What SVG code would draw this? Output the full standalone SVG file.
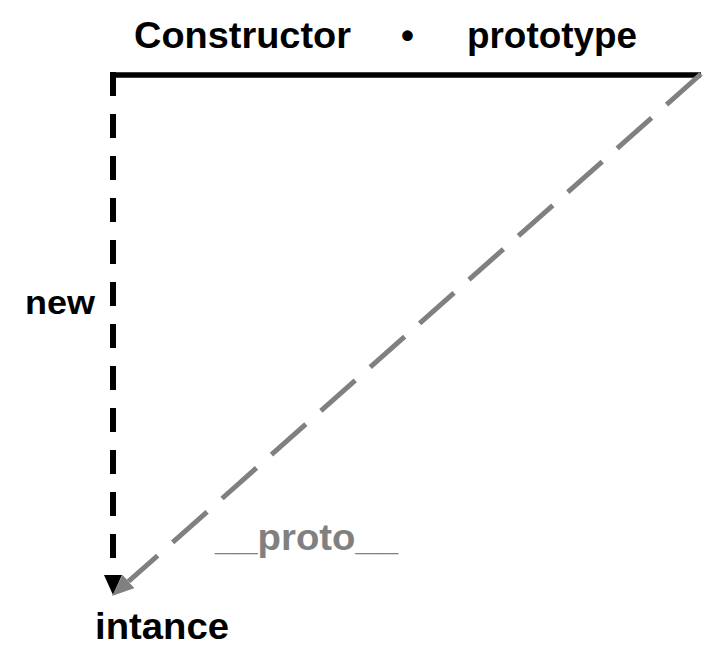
<svg xmlns="http://www.w3.org/2000/svg" width="704" height="672" viewBox="0 0 704 672">
  <style>
    .lbl { font-family: "Liberation Sans", Arial, Helvetica, sans-serif; font-weight: bold; fill: #000; }
    .gray { fill: #808080; }
    .solid { stroke: #000; stroke-width: 5.5; fill: none; }
    .newline { stroke: #000; stroke-width: 6; fill: none; stroke-dasharray: 24 18; }
    .protoline { stroke: #808080; stroke-width: 5; fill: none; stroke-dasharray: 46 20; }
  </style>
  <defs>
    <marker id="arrBlack" markerUnits="userSpaceOnUse" markerWidth="21" markerHeight="18" viewBox="0 0 21 18" refX="0" refY="9" orient="auto">
      <path d="M0,0 L20,9 L0,18 z" fill="#000"/>
    </marker>
    <marker id="arrGray" markerUnits="userSpaceOnUse" markerWidth="23" markerHeight="18" viewBox="0 0 23 18" refX="0" refY="9" orient="auto">
      <path d="M0,0 L22,9 L0,18 z" fill="#808080"/>
    </marker>
  </defs>

  <g id="connectors">
    <line id="ctor-line" class="solid" x1="110" y1="75" x2="701" y2="75"/>
    <line id="new-edge" class="newline" x1="113" y1="72" x2="113" y2="575" marker-end="url(#arrBlack)"/>
    <line id="proto-edge" class="protoline" x1="701" y1="74" x2="128.5" y2="581.4" marker-end="url(#arrGray)"/>
  </g>

  <g id="constructor">
    <text class="lbl" x="134" y="48" font-size="37" textLength="217" lengthAdjust="spacingAndGlyphs">Constructor</text>
  </g>
  <g id="dot">
    <text class="lbl" x="401" y="48" font-size="37">•</text>
  </g>
  <g id="prototype">
    <text class="lbl" x="467" y="48" font-size="37" textLength="170" lengthAdjust="spacingAndGlyphs">prototype</text>
  </g>
  <g id="new-label">
    <text class="lbl" x="25" y="314" font-size="34" textLength="70" lengthAdjust="spacingAndGlyphs">new</text>
  </g>
  <g id="proto-label">
    <text class="lbl gray" x="215" y="550" font-size="36" textLength="183" lengthAdjust="spacingAndGlyphs">__proto__</text>
  </g>
  <g id="instance">
    <text class="lbl" x="95" y="639" font-size="37" textLength="134" lengthAdjust="spacingAndGlyphs">intance</text>
  </g>
</svg>
